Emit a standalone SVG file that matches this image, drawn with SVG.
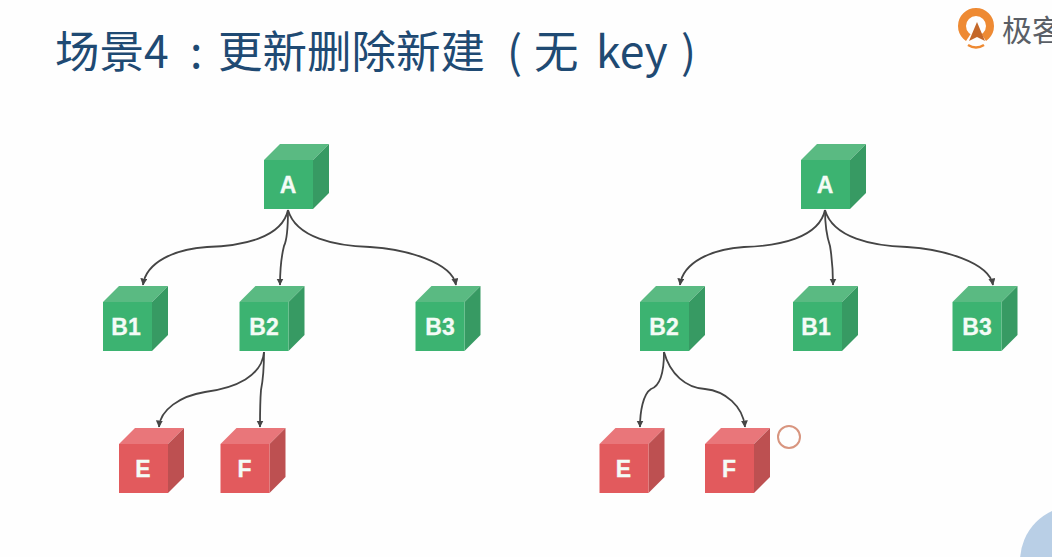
<svg xmlns="http://www.w3.org/2000/svg" width="1052" height="557" viewBox="0 0 1052 557">
<style>
.title{font-family:"Noto Sans CJK SC","Noto Sans",sans-serif;font-size:44.500px;fill:#1f4a73}
.pn{font-family:"Noto Sans CJK TC","Noto Sans",sans-serif}
.lbl{font-family:"Liberation Sans",Arial,sans-serif;font-size:23px;font-weight:700;fill:#f4fbf6;stroke:#f4fbf6;stroke-width:.3;text-anchor:middle}
.conn{fill:none;stroke:#454545;stroke-width:1.8;marker-end:url(#arr)}
</style>
<defs>
<marker id="arr" markerUnits="userSpaceOnUse" markerWidth="8" markerHeight="8" refX="6.500" refY="3.500" orient="auto"><path d="M0 0L7 3.500L0 7Z" fill="#454545"/></marker>
<g id="gcube"><path d="M16 0H65L49 16H0Z" fill="#5aba82"/><path d="M65 0V49L49 65V16Z" fill="#379a63"/><rect y="16" width="49" height="49" fill="#3cb371"/></g>
<g id="rcube"><path d="M16 0H65L49 16H0Z" fill="#e9767a"/><path d="M65 0V49L49 65V16Z" fill="#bd5051"/><rect y="16" width="49" height="49" fill="#e25a5d"/></g>
</defs>
<rect width="1052" height="557" fill="#fefefe"/>
<circle id="corner" cx="1075" cy="561" r="55" fill="#b9cfe6"/>
<text id="title" class="title" y="68" xml:space="preserve"><tspan x="55">场景4</tspan><tspan class="pn" x="190">:</tspan><tspan x="218">更新删除新建</tspan><tspan class="pn" x="507">(</tspan><tspan x="534">无</tspan><tspan x="596">key</tspan><tspan class="pn" x="681">)</tspan></text>
<g id="logo">
<circle cx="976" cy="26" r="14" fill="none" stroke="#ee8a33" stroke-width="8"/>
<path d="M976 26L988 44H964Z" fill="#fefefe"/><path d="M977 22L985 41L977 37L969 41Z" fill="#c4682a"/>
<path d="M968 45Q976 50 984 45" fill="none" stroke="#ee8a33" stroke-width="2.500"/>
<text x="1002" y="41" font-family="'Noto Sans CJK SC',sans-serif" font-size="30" fill="#5a5f66">极客</text>
</g>
<g id="connectors">
<path class="conn" d="M288 210C282 238 242 246 207 247C175 249 146 262 143 285"/>
<path class="conn" d="M288 210C288 225 287 240 284 246C281 258 280 272 280 285"/>
<path class="conn" d="M288 210C296 238 336 246 370 247C405 249 452 262 456 285"/>
<path class="conn" d="M264 352C262 376 236 388 205 392C180 396 160 410 159 427"/>
<path class="conn" d="M264 352C264 372 262 385 261 390C260 402 260 415 260 427"/>
<path class="conn" d="M825 210C819 238 779 246 744 247C712 249 683 262 680 285"/>
<path class="conn" d="M825 210C825 225 828 240 830 246C832 258 833 272 833 285"/>
<path class="conn" d="M825 210C833 238 873 246 907 247C942 249 989 262 993 285"/>
<path class="conn" d="M664 352C664 372 660 386 651 389C643 394 640 412 640 427"/>
<path class="conn" d="M664 352C670 374 686 388 705 389C725 391 743 406 745 427"/>
</g>
<g id="node-a-left"><use href="#gcube" x="264" y="144"/><text class="lbl" x="288" y="193">A</text></g>
<g id="node-b1-left"><use href="#gcube" x="103" y="286"/><text class="lbl" x="126" y="335">B1</text></g>
<g id="node-b2-left"><use href="#gcube" x="239.500" y="286"/><text class="lbl" x="264" y="335">B2</text></g>
<g id="node-b3-left"><use href="#gcube" x="415.500" y="286"/><text class="lbl" x="440" y="335">B3</text></g>
<g id="node-e-left"><use href="#rcube" x="119" y="428"/><text class="lbl" x="143" y="477">E</text></g>
<g id="node-f-left"><use href="#rcube" x="220.500" y="428"/><text class="lbl" x="244.500" y="477">F</text></g>
<g id="node-a-right"><use href="#gcube" x="801" y="144"/><text class="lbl" x="825" y="193">A</text></g>
<g id="node-b2-right"><use href="#gcube" x="640" y="286"/><text class="lbl" x="664" y="335">B2</text></g>
<g id="node-b1-right"><use href="#gcube" x="793" y="286"/><text class="lbl" x="816" y="335">B1</text></g>
<g id="node-b3-right"><use href="#gcube" x="952.500" y="286"/><text class="lbl" x="977" y="335">B3</text></g>
<g id="node-e-right"><use href="#rcube" x="599.500" y="428"/><text class="lbl" x="623.500" y="477">E</text></g>
<g id="node-f-right"><use href="#rcube" x="705" y="428"/><text class="lbl" x="729" y="477">F</text></g>
<circle id="marker-circle" cx="789" cy="437" r="11" fill="#fefefe" stroke="#d8957f" stroke-width="2"/>
</svg>
